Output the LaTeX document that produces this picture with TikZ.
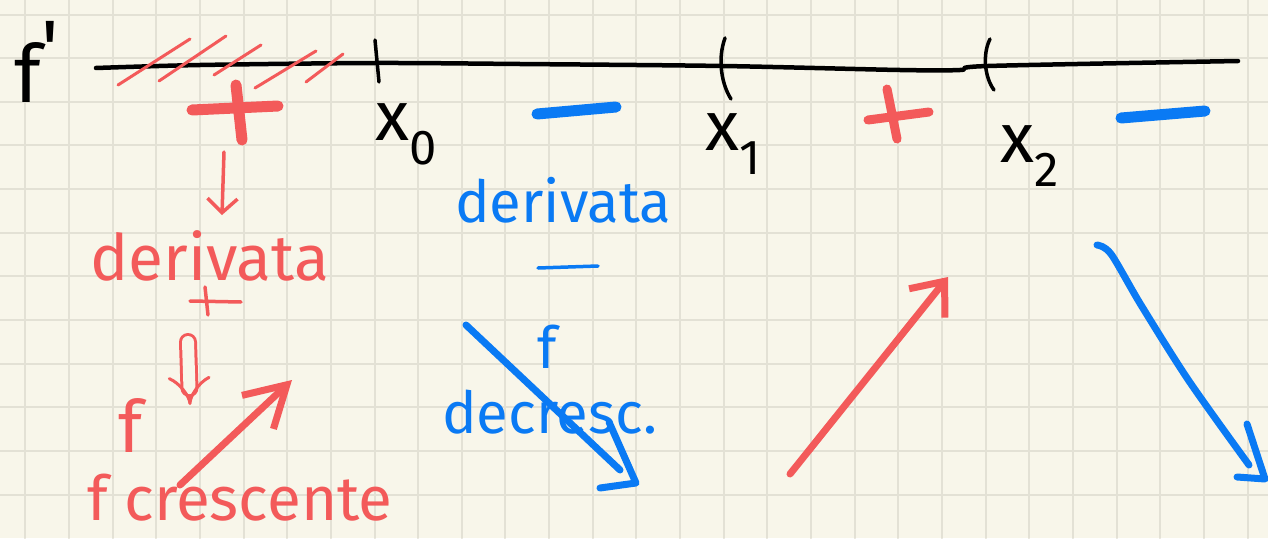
\documentclass[tikz,border=0pt]{standalone}
\usepackage{fontspec}
\setmainfont{Fira Sans}
\usetikzlibrary{arrows.meta}
\definecolor{paper}{HTML}{F8F6EA}
\definecolor{gridc}{HTML}{E3E1D5}
\definecolor{penred}{HTML}{F35A5A}
\definecolor{penblue}{HTML}{0A7AF4}
\begin{document}
\begin{tikzpicture}[x=1pt,y=-1pt,line cap=round,line join=round,
  ink/.style={line width=3.5pt},
  marker/.style={line width=11pt},
  bigpen/.style={line width=7pt},
  hand/.style={inner sep=0pt,anchor=base west,font=\fontsize{#1}{#1}\selectfont}]
% paper
\fill[paper] (0,0) rectangle (1268,538);
\useasboundingbox (0,0) rectangle (1268,538);
\foreach \i in {0,...,28}
  \draw[gridc,line width=2pt] (25.3+43.65*\i,0) -- (25.3+43.65*\i,538);
\foreach \j in {0,...,11}
  \draw[gridc,line width=2pt] (0,14.5+43.65*\j) -- (1268,14.5+43.65*\j);
% f' axis
\node[hand=80] (fp) at (14,102) {f\raisebox{.32em}{\textquotesingle}};
\draw[line width=4.5pt] plot[smooth] coordinates {(96,68) (200,65) (375,63) (520,64) (723,66) (900,70) (960,70) (988,66) (1238,61)};
\draw[ink] (375,40) -- (379,82);
\draw[ink] (725,38) .. controls (717,60) and (722,85) .. (731,99);
\draw[ink] (990,39) .. controls (982,55) and (985,78) .. (994,90);
\node[hand=70] (x0) at (375,140) {x\textsubscript{0}};
\node[hand=70] (x1) at (705,150) {x\textsubscript{1}};
\node[hand=70] (x2) at (1000,162) {x\textsubscript{2}};
% signs
\draw[penred,line width=3pt] (118,85) -- (190,39) (159,81) -- (226,36) (214,75) -- (261,45)
  (255,88) -- (316,51) (306,82) -- (343,54);
\draw[penred,marker] (192,110) -- (278,106) (236,85) -- (242,140);
\draw[penblue,marker] (537,114) -- (616,107);
\draw[penred,line width=9pt] (868,120) -- (929,112) (887,89) -- (897,139);
\draw[penblue,marker] (1121,118) -- (1205,111);
% red column
\coordinate (dnA) at (224,152);
\coordinate (dnB) at (222,215);
\draw[penred,ink,-{Straight Barb[length=14pt,width=30pt]}] (dnA) -- (dnB);
\node[hand=64,text=penred] (derR) at (90,280) {derivata};
\draw[penred,ink] (190,301) -- (241,302) (205,287) -- (208,315);
\coordinate (imA) at (188,342);
\coordinate (imB) at (190,405);
\draw[penred,line width=3pt,double=paper,double distance=12pt,-{Implies}] (imA) -- (imB);
\node[hand=72,text=penred] (fR) at (118,452) {f};
\coordinate (upA) at (180,485);
\coordinate (upB) at (292,380);
\draw[penred,bigpen,-{Straight Barb[length=40pt,width=46pt]}] (upA) -- (upB);
\node[hand=62,text=penred] (cresc) at (87,520) {f crescente};
% blue column
\node[hand=58,text=penblue] (derB) at (455,222) {derivata};
\draw[penblue,ink] (538,268) -- (598,266);
\node[hand=58,text=penblue] (fB) at (537,368) {f};
\node[hand=58,text=penblue] (decr) at (442,433) {decresc.};
\coordinate (dwA) at (466,325);
\coordinate (dwB) at (620,470);
\draw[penblue,bigpen] (dwA) -- (dwB);
\draw[penblue,bigpen] (609,422) -- (636,483) -- (600,488);
% right arrows
\coordinate (riseA) at (790,474);
\coordinate (riseB) at (948,277);
\draw[penred,bigpen,-{Straight Barb[length=28pt,width=46pt]}] (riseA) -- (riseB);
\coordinate (fallA) at (1097,245);
\coordinate (fallB) at (1249,465);
\draw[penblue,bigpen] plot[smooth] coordinates {(fallA) (1111,254) (1141,305) (1189,381) (fallB)};
\draw[penblue,bigpen] (1247,424) -- (1265,479) -- (1237,477);
\end{tikzpicture}
\end{document}
